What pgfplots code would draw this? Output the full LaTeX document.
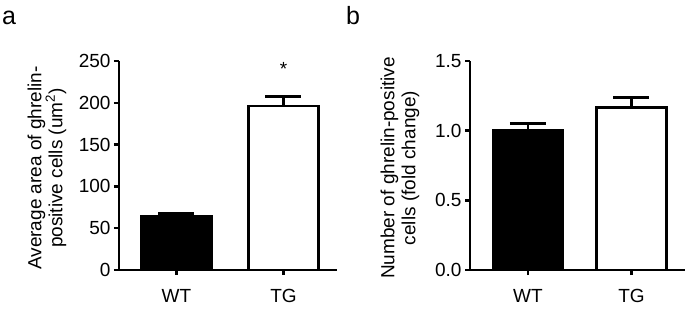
\documentclass[border=0pt]{standalone}
\usepackage{fontspec}
\setmainfont{Liberation Sans}
\usepackage{pgfplots}
\pgfplotsset{compat=1.18}
\begin{document}
\begin{tikzpicture}
\useasboundingbox (0,0) rectangle (688bp,310bp);
\pgfplotsset{
  mystyle/.style={
    scale only axis,
    anchor=south west,
    height=209bp,
    axis x line*=bottom,
    axis y line*=left,
    axis line style={-, line width=2.5bp, black},
    tick style={line width=2.5bp, black},
    major tick length=5bp,
    tick align=outside,
    xtick={0,1},
    xticklabels={WT,TG},
    xticklabel style={yshift=-11bp},
    ymin=0,
    scaled y ticks=false,
    /pgf/number format/assume math mode=true,
    tick label style={font=\fontsize{19bp}{22bp}\selectfont},
    clip=false,
  },
  mybar/.style={
    ybar, bar shift=0pt, bar width=70bp, line width=2.5bp, draw=black,
    error bars/.cd, y dir=plus, y explicit,
    error bar style={line width=2.5bp, black},
    error mark options={rotate=90, mark size=18bp, line width=3bp, black},
  },
}
% panel a
\begin{axis}[mystyle,
  at={(119bp,40bp)},
  width=218bp,
  xmin=-0.537, xmax=1.5,
  ymax=250, ytick={0,50,100,150,200,250},
  ylabel={Average area of ghrelin-\\positive cells (um\textsuperscript{2})},
  every axis y label/.style={at={(axis description cs:-0.33,0.488)}, rotate=90, anchor=center, align=center, font=\fontsize{19bp}{21bp}\selectfont},
]
\addplot[fill=black, mybar] coordinates {(0,64) +- (0,4)};
\addplot[fill=white, mybar] coordinates {(1,196) +- (0,11)};
\node[font=\fontsize{19bp}{22bp}\selectfont, inner sep=0pt] at (axis cs:1,241) {*};
\end{axis}
% panel b
\begin{axis}[mystyle,
  at={(470bp,40bp)},
  width=215bp,
  xmin=-0.56, xmax=1.517,
  ymax=1.5, ytick={0,0.5,1,1.5},
  yticklabel style={/pgf/number format/.cd, fixed, fixed zerofill, precision=1},
  ylabel={Number of ghrelin-positive\\cells (fold change)},
  every axis y label/.style={at={(axis description cs:-0.326,0.488)}, rotate=90, anchor=center, align=center, font=\fontsize{19bp}{21bp}\selectfont},
]
\addplot[fill=black, mybar] coordinates {(0,1.0) +- (0,0.055)};
\addplot[fill=white, mybar] coordinates {(1,1.165) +- (0,0.072)};
\end{axis}
\node[anchor=base west, inner sep=0pt, font=\fontsize{25bp}{28bp}\selectfont] at (2bp,285bp) {a};
\node[anchor=base west, inner sep=0pt, font=\fontsize{25bp}{28bp}\selectfont] at (346bp,285bp) {b};
\end{tikzpicture}
\end{document}
